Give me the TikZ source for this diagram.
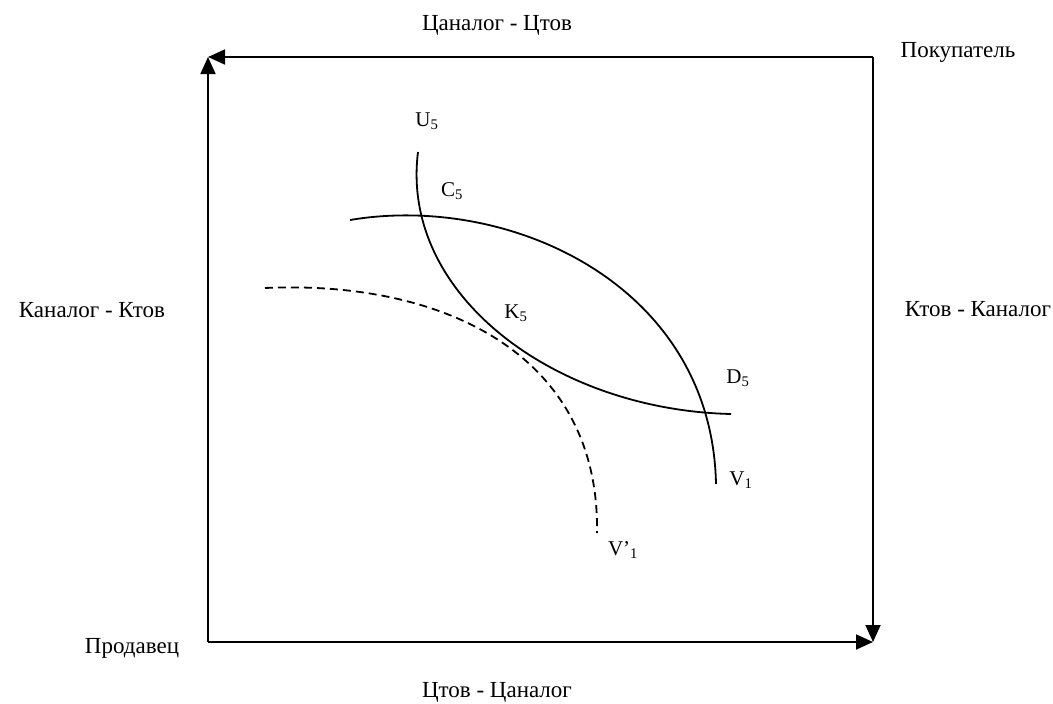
\documentclass[tikz,border=0pt]{standalone}
\usepackage{fontspec}
\setmainfont{Liberation Serif}
\usetikzlibrary{arrows.meta}
\begin{document}
\begin{tikzpicture}[x=1pt,y=-1pt,
  axis/.style={line width=1.8pt,-{Triangle[length=17pt,width=15pt]}},
  curve/.style={line width=1.8pt},
  dcurve/.style={line width=1.8pt,dash pattern=on 8pt off 5pt},
  lbl/.style={font=\fontsize{23}{27}\selectfont,inner sep=0pt},
  pt/.style={font=\fontsize{21}{25}\selectfont,inner sep=0pt}]
\useasboundingbox (0,0) rectangle (1053,704);
\coordinate (BL) at (208,642);
\coordinate (TL) at (208,57);
\coordinate (TR) at (873,57);
\coordinate (BR) at (873,642);
\draw[axis] (BL) -- (TL);
\draw[axis] (TR) -- (TL);
\draw[axis] (TR) -- (BR);
\draw[axis] (BL) -- (BR);
\node[lbl] (top) at (497,25) {Цаналог - Цтов};
\node[lbl] (buy) at (958,52) {Покупатель};
\node[lbl] (left) at (92,310) {Каналог - Ктов};
\node[lbl] (right) at (978,309) {Ктов - Каналог};
\node[lbl] (sell) at (132,648) {Продавец};
\node[lbl] (bot) at (497,692) {Цтов - Цаналог};
% curves
\coordinate (a0) at (418,152);
\coordinate (a1) at (731,414);
\draw[curve] (a0) .. controls (400,295) and (555,410) .. (a1);
\coordinate (b0) at (350,220);
\coordinate (b1) at (716,484);
\draw[curve] (b0) .. controls (510,193) and (712,285) .. (b1);
\coordinate (d0) at (265,288);
\coordinate (d1) at (597,533);
\draw[dcurve] (d0) .. controls (440,280) and (600,352) .. (d1);
\node[pt] (U5) at (427,121) {U\textsubscript{5}};
\node[pt] (C5) at (452,191) {C\textsubscript{5}};
\node[pt] (K5) at (516,313) {K\textsubscript{5}};
\node[pt] (D5) at (738,378) {D\textsubscript{5}};
\node[pt] (V1) at (741,480) {V\textsubscript{1}};
\node[pt] (V1p) at (623,550) {V’\textsubscript{1}};
\end{tikzpicture}
\end{document}
